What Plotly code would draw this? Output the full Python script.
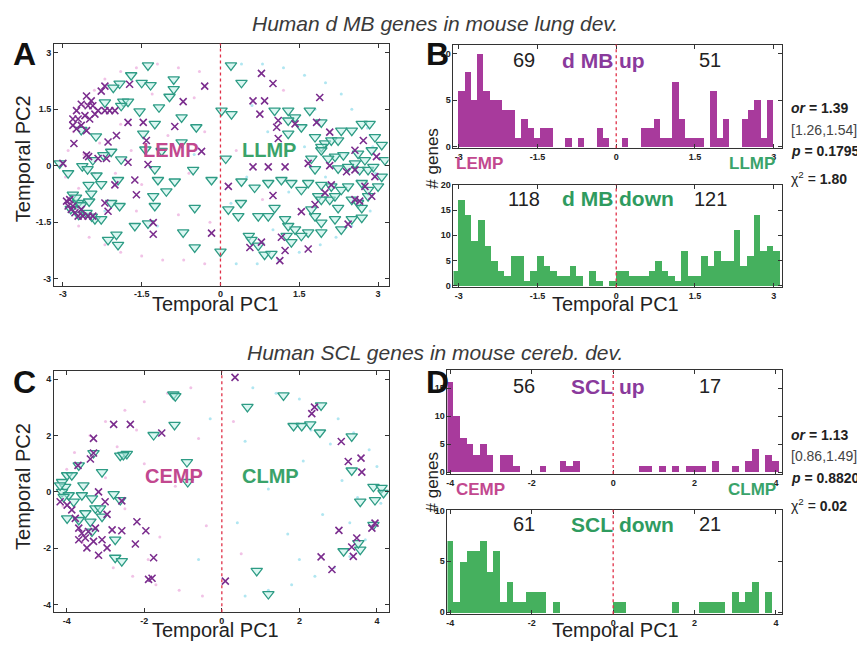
import plotly.graph_objects as go

# page body has an 8 px margin, so the figure is drawn smaller and every
# reference pixel position is shifted by that amount (no scrollbars appear)
OFF = 8
W, H = 865 - OFF, 649 - 2 * OFF

# ---------------- data ----------------
MB_UP_START, MB_UP_WIDTH = -3.0, 0.12
MB_UP_COUNTS = [6, 8, 5, 10, 6, 5, 5, 4, 4, 1, 3, 2, 1, 2, 2, 0, 0, 1, 0, 1, 0, 0, 2, 1, 0,
                0, 1, 0, 0, 2, 2, 3, 1, 1, 7, 3, 1, 1, 1, 0, 6, 1, 3, 0, 0, 3, 4, 5, 1, 5]

MB_DOWN_START, MB_DOWN_WIDTH = -3.125, 0.125
MB_DOWN_COUNTS = [3, 17, 14, 9, 13, 8, 5, 3, 2, 6, 6, 1, 3, 6, 4, 3, 2, 2, 4, 2, 0, 3, 1, 0, 1,
                  3, 3, 2, 2, 2, 3, 5, 3, 2, 1, 7, 2, 2, 6, 4, 7, 5, 5, 11, 4, 6, 14, 7, 8, 7]

SCL_START, SCL_WIDTH = -4.075, 0.163
SCL_UP_COUNTS = [16, 10, 6, 5, 3, 5, 3, 0, 3, 3, 1, 0, 0, 0, 1, 0, 0, 2, 1, 2, 0, 0, 0, 0, 0,
                 0, 0, 0, 0, 1, 1, 0, 1, 0, 1, 0, 1, 1, 1, 0, 2, 0, 0, 1, 0, 2, 4, 0, 3, 2]
SCL_DOWN_COUNTS = [7, 1, 5, 6, 6, 7, 4, 6, 1, 3, 1, 1, 2, 2, 2, 0, 1, 0, 0, 0, 0, 0, 0, 0, 0,
                   1, 1, 0, 0, 0, 0, 0, 0, 0, 1, 0, 0, 0, 1, 1, 1, 1, 0, 2, 1, 2, 3, 0, 2, 0]

# Panel A: d MB down genes (triangles) and d MB up genes (crosses)
A_DOWN_PTS = [
    (-1.38, 2.66), (-1.70, 2.40), (-1.50, 2.20), (-1.33, 2.14), (-1.92, 2.18), (-2.04, 2.07),
    (-0.89, 2.29), (-0.89, 2.03), (-0.97, 1.83), (-1.85, 1.70), (-1.76, 1.70), (-1.89, 1.59),
    (-2.20, 1.68), (-1.54, 1.44), (-1.17, 1.55), (-0.74, 1.28), (0.02, 1.46), (0.21, 1.37),
    (-1.25, 1.11), (-0.46, 1.02), (-1.47, 0.85), (-2.37, 0.78), (-0.74, 0.62), (-1.43, 0.43),
    (-1.12, 0.39), (-1.89, 0.17), (-2.08, 0.37), (-2.23, 0.28), (-2.43, 0.15), (-2.63, -0.01),
    (-2.53, -0.09), (-2.36, -0.26), (-2.90, -0.20), (-3.06, 0.06), (-1.25, -0.09), (-0.52, -0.11),
    (-1.19, -0.38), (-0.87, -0.42), (-0.17, -0.38), (-2.51, -0.51), (-2.27, -0.49), (-1.95, -0.38),
    (-2.81, -0.77), (-2.71, -0.99), (-2.46, -0.74), (-2.39, -1.42), (-2.08, -0.99), (-1.92, -1.07),
    (-1.25, -1.07), (-1.28, -0.81), (-1.03, -0.68), (-0.49, -1.12), (-2.27, -1.42), (-1.98, -1.83),
    (-1.95, -2.10), (-2.14, -1.97), (-1.63, -1.60), (-1.38, -1.53), (-0.71, -1.77), (-0.49, -2.17),
    (0.00, -2.28), (-2.75, -0.85), (-2.65, -1.05), (-2.55, -1.25), (-2.45, -1.35), (-2.85, -1.15),
    (-2.70, -1.30), (-2.50, -0.95), (-2.65, 0.95),
    (0.20, 2.66), (0.40, 2.20), (0.10, 0.19), (0.40, -0.42), (0.39, -0.99), (0.15, -1.16),
    (0.34, -1.34), (0.54, -1.86), (0.59, -1.97), (0.72, -2.12), (0.84, -2.36), (0.97, -2.34),
    (0.72, -1.34), (0.91, -1.34), (1.03, -1.12), (1.03, 1.46), (1.29, 1.46), (1.42, 1.28),
    (1.70, 1.46), (1.29, 1.20), (1.29, 0.85), (1.54, 1.02), (1.92, 1.15), (1.80, 0.76),
    (1.99, 0.59), (1.92, 0.50), (1.73, 0.19), (1.80, -0.09), (1.92, 0.41), (2.11, 0.67),
    (2.24, 0.67), (2.30, 0.93), (2.50, 0.93), (2.69, 1.11), (2.84, 1.11), (2.94, 0.76),
    (3.07, 0.55), (2.88, 0.41), (2.75, 0.15), (2.56, 0.06), (2.43, -0.03), (2.65, -0.11),
    (2.81, -0.11), (2.91, -0.03), (3.13, 0.15), (3.07, -0.29), (3.00, -0.55), (2.81, -0.64),
    (2.69, -0.46), (2.62, -0.99), (2.81, -0.81), (2.69, -1.12), (2.50, -0.90), (2.30, -0.64),
    (2.11, -0.55), (1.92, -0.51), (1.67, -0.46), (1.35, -0.46), (1.54, -0.64), (1.16, -0.38),
    (0.91, -0.46), (0.65, -0.58), (1.86, -0.81), (2.08, -0.90), (2.18, -0.81), (2.24, -1.12),
    (2.50, -1.42), (2.69, -1.38), (2.18, -1.42), (1.92, -1.51), (1.80, -1.34), (1.67, -1.77),
    (1.42, -1.69), (1.29, -1.60), (1.23, -1.42), (1.26, -1.86), (1.35, -2.03), (1.54, -1.86),
    (1.92, -1.77), (2.30, -1.69), (1.92, -0.90), (2.43, -0.55), (1.73, -1.16), (2.24, -0.07),
    (2.62, 0.32), (2.18, 0.24), (2.05, 0.19), (2.34, 0.28),
]
A_UP_PTS = [
    (-2.55, 1.85), (-2.46, 1.72), (-2.27, 1.98), (-2.20, 2.11), (-2.65, 1.63), (-2.74, 1.46),
    (-2.81, 1.24), (-2.71, 1.24), (-2.58, 1.33), (-2.49, 1.24), (-2.39, 1.37), (-2.33, 1.46),
    (-2.20, 1.46), (-2.11, 1.46), (-2.01, 1.46), (-2.65, 1.07), (-2.81, 1.07), (-2.74, 0.98),
    (-2.55, 0.93), (-2.52, 1.59), (-2.43, 1.59),
    (-1.73, 2.16), (-0.30, 2.11), (-0.71, 1.70), (-1.76, 1.15), (-1.47, 1.15), (-0.87, 1.04),
    (-1.98, 0.80), (-2.14, 0.63), (-2.79, 0.59), (-2.55, 0.28), (-2.51, 0.24), (-2.33, 0.19),
    (-2.17, 0.19), (-1.76, 0.09), (-1.38, 0.03), (-0.36, 0.38), (-1.41, 0.67), (-2.01, -0.51),
    (-1.63, -0.38), (-1.60, -0.77), (-2.14, -1.21), (-1.28, -1.51), (-1.28, -1.82), (-0.17, -1.79),
    (-3.00, 0.06),
    (-2.93, -0.94), (-2.90, -1.07), (-2.84, -1.16), (-2.77, -1.25), (-2.71, -1.34), (-2.62, -1.34),
    (-2.52, -1.34), (-2.43, -1.34), (-2.87, -0.90), (-2.81, -1.07), (-2.65, -1.16), (-2.20, -0.99),
    (0.78, 2.45), (1.00, 2.18), (1.89, 1.81), (0.62, 1.72), (0.84, 1.72), (0.75, 1.37),
    (1.10, 1.20), (1.42, 1.11), (1.83, 1.15), (1.07, 1.02), (1.10, 0.72), (2.08, 0.89),
    (0.62, -0.03), (0.91, -0.03), (1.23, -0.03), (1.67, 0.06), (2.08, 0.00), (2.56, 0.41),
    (2.72, 0.67), (2.97, 0.24), (0.15, -0.55), (1.00, -0.79), (1.80, -1.03), (1.99, -0.72),
    (2.11, -0.51), (1.54, -1.22), (2.43, -1.55), (2.56, -0.90), (2.65, -0.94), (2.88, -0.81),
    (2.75, -0.55), (2.56, -0.11), (2.40, -0.16), (2.94, -0.29), (0.56, -2.17), (0.78, -2.03),
    (1.23, -2.25), (1.13, -2.52), (1.67, -2.21), (1.16, -1.90),
]
# Panel A: faint background genes (early-peaking pink, late-peaking cyan)
A_BG_EARLY = [
    (-2.9, 0.4), (-2.95, -0.3), (-2.8, 0.9), (-2.7, -0.6), (-2.6, 1.6), (-2.4, 2.0), (-2.2, 2.3),
    (-1.9, 2.5), (-1.6, 2.6), (-1.2, 2.7), (-0.8, 2.6), (-0.4, 2.5), (-2.7, -1.6), (-2.5, -1.9),
    (-2.2, -2.1), (-1.9, -2.3), (-1.5, -2.4), (-1.1, -2.5), (-0.7, -2.5), (-0.3, -2.6), (-2.3, 0.6),
    (-2.0, -0.2), (-1.7, 0.4), (-1.5, -0.5), (-1.0, 0.8), (-0.6, -0.2), (-0.3, 0.9), (-0.8, -1.3),
    (-1.6, -1.2), (-2.6, 0.3), (-2.85, -0.8), (-2.4, -0.2), (-1.3, 1.9), (-0.5, 1.8), (-0.2, -1.5),
    (0.3, 0.4), (0.8, -0.9), (1.2, 2.0), (-1.9, 1.1), (-2.95, 0.0),
]
A_BG_LATE = [
    (2.9, 0.5), (2.95, -0.2), (2.8, 1.0), (2.7, -0.9), (2.5, 1.5), (2.3, 1.9), (2.0, 2.2),
    (1.6, 2.4), (1.2, 2.6), (0.8, 2.7), (0.4, 2.7), (2.5, -1.6), (2.2, -1.9), (1.9, -2.1),
    (1.5, -2.3), (1.1, -2.5), (0.7, -2.6), (0.3, -2.6), (2.4, 0.3), (2.0, -0.3), (1.6, 0.5),
    (1.3, -0.7), (0.9, 0.9), (0.5, -0.3), (0.2, -1.0), (1.0, -1.7), (1.8, 1.5), (2.6, -0.4),
    (-0.5, 0.3), (-1.2, -1.6), (-2.2, -1.2), (-0.9, 2.2), (0.6, 1.6), (2.85, -1.2),
]

# Panel C: SCL down genes (triangles) and SCL up genes (crosses)
C_DOWN_PTS = [
    (-1.25, 3.46), (-1.20, 3.40), (-1.22, 2.38), (-1.76, 2.02), (-2.62, 1.29), (-2.45, 1.35),
    (-2.54, 1.31), (-3.31, 1.38), (-3.09, 0.70), (-3.69, 0.94), (-0.90, 1.06), (-0.88, 0.35),
    (-2.79, -0.08), (-2.62, -0.29), (-3.99, 0.59), (-3.87, 0.59), (-4.12, 0.35), (-4.04, 0.18),
    (-4.12, 0.00), (-3.95, -0.12), (-3.82, -0.35), (-3.61, -0.12), (-3.57, 0.23), (-3.35, -0.23),
    (-3.26, -0.59), (-3.52, -0.76), (-3.69, -1.00), (-3.39, -1.06), (-3.99, -0.94), (-2.75, -1.70),
    (-2.75, -2.34), (-2.58, -2.46), (-4.17, 0.23), (-4.08, -0.18), (-3.14, -0.59), (-3.09, -0.88),
    (-3.35, -1.41),
    (0.66, 3.02), (1.59, 3.43), (2.56, 3.07), (1.85, 2.34), (2.06, 2.34), (2.28, 2.40),
    (2.53, 2.11), (3.35, 1.97), (3.35, 0.76), (3.91, 0.18), (4.12, 0.14), (4.17, -0.04),
    (3.95, -0.29), (3.57, -0.35), (3.14, -2.11), (3.57, -2.05), (3.52, -1.82), (3.91, -1.17),
    (0.90, -2.81), (1.20, -3.63),
]
C_UP_PTS = [
    (-2.79, 2.40), (-2.36, 2.40), (-3.31, 1.90), (-3.31, 1.38), (-3.39, 1.17), (-3.71, 0.94),
    (-1.55, 2.09), (-3.18, 0.00), (-3.01, -0.35), (-2.58, -0.32), (-4.17, -0.35), (-3.99, -0.47),
    (-3.87, -0.64), (-3.78, -0.94), (-3.69, -1.29), (-3.61, -1.47), (-3.52, -1.64), (-3.69, -1.70),
    (-3.44, -1.41), (-3.26, -1.29), (-3.09, -1.70), (-2.96, -1.99), (-3.18, -2.25), (-2.83, -1.35),
    (-2.58, -1.38), (-2.19, -1.06), (-1.96, -1.38), (-2.23, -1.85), (-1.76, -2.34), (-1.89, -3.11),
    (-1.80, -3.07), (-2.96, -0.80), (-3.48, -1.99), (-3.31, -1.76),
    (0.34, 4.07), (0.09, -3.17), (2.32, 2.78), (2.39, 3.01), (3.08, 1.79), (3.26, 1.08),
    (3.59, 1.20), (3.61, 0.70), (3.95, -1.11), (3.87, -1.29), (3.48, -1.64), (3.35, -1.96),
    (3.39, -2.29), (3.02, -1.37), (2.56, -2.31), (2.84, -2.76),
]
C_BG_EARLY = [
    (-4.0, 0.8), (-4.1, -0.5), (-3.8, 1.4), (-3.6, -1.8), (-3.4, 2.0), (-3.0, 2.5), (-2.5, 2.9),
    (-2.0, 3.2), (-1.4, 3.5), (-0.8, 3.7), (-3.2, -2.3), (-2.8, -2.7), (-2.3, -3.0), (-1.7, -3.3),
    (-1.1, -3.5), (-0.5, -3.7), (-3.0, 0.5), (-2.5, -0.6), (-2.0, 1.0), (-1.6, -1.6), (-1.2, 0.2),
    (-0.6, 1.9), (-0.4, -1.2), (-2.7, 1.6), (-3.5, 0.2), (-3.3, -1.0), (-1.9, -2.4), (-2.2, 2.2),
    (0.3, 2.5), (0.5, -2.2),
]
C_BG_LATE = [
    (4.0, 0.9), (4.1, -0.4), (3.8, 1.5), (3.7, -1.7), (3.4, 2.1), (3.0, 2.6), (2.5, 3.0),
    (2.0, 3.3), (1.4, 3.5), (0.8, 3.7), (3.3, -2.3), (2.9, -2.7), (2.4, -3.0), (1.8, -3.3),
    (1.2, -3.5), (0.6, -3.7), (3.1, 0.4), (2.6, -0.8), (2.1, 1.1), (1.7, -1.5), (1.2, 0.1),
    (0.6, 1.8), (0.4, -1.1), (2.8, 1.7), (3.5, -0.2), (3.3, -1.1), (2.0, -2.4), (2.3, 2.2),
    (-0.3, 2.6), (-0.6, -2.4),
]

MB_TICKS = [-3, -1.5, 0, 1.5, 3]
MB_TICK_TEXT = ["-3", "-1.5", "0", "1.5", "3"]
SCL_TICKS = [-4, -2, 0, 2, 4]
SCL_TICK_TEXT = ["-4", "-2", "0", "2", "4"]

# ---------------- styling ----------------
FONT = "Arial, Liberation Sans, Helvetica, sans-serif"
PURPLE = "#7B2D8E"
TEAL = "#2E9C85"
UP_BAR = "#A83A9C"
DOWN_BAR = "#45B05E"
PINK_TXT = "#C2488F"
GREEN_TXT = "#3AA36A"
UP_TXT = "#8A3A9C"
DOWN_TXT = "#2F9B5F"
RED = "#E03048"
FRAME = "#333333"


def dom(x0, x1, y0, y1):
    return [(x0 - OFF) / W, (x1 - OFF) / W], [1 - (y1 - OFF) / H, 1 - (y0 - OFF) / H]


def px(x, y):
    return (x - OFF) / W, 1 - (y - OFF) / H


fig = go.Figure()


def ax(n):
    return ("x%d" % n if n > 1 else "x"), ("y%d" % n if n > 1 else "y")


def centers(start, width, counts):
    return [start + width * (i + 0.5) for i in range(len(counts))]


def add_bars(counts, start, width, color, n):
    xa, ya = ax(n)
    fig.add_trace(go.Bar(
        x=centers(start, width, counts), y=counts, width=width,
        marker=dict(color=color, line=dict(width=0)),
        xaxis=xa, yaxis=ya, showlegend=False, hoverinfo="skip"))


def add_scatter(down_pts, up_pts, bg_early, bg_late, n):
    xa, ya = ax(n)
    for pts, col in ((bg_early, "rgba(225,120,200,0.45)"), (bg_late, "rgba(80,200,225,0.45)")):
        fig.add_trace(go.Scatter(
            x=[p[0] for p in pts], y=[p[1] for p in pts], mode="markers",
            marker=dict(symbol="circle", size=3, color=col),
            xaxis=xa, yaxis=ya, showlegend=False, hoverinfo="skip"))
    fig.add_trace(go.Scatter(
        x=[p[0] for p in down_pts], y=[p[1] for p in down_pts], mode="markers",
        marker=dict(symbol="triangle-down", size=10, color="rgba(190,240,232,0.55)",
                    line=dict(color=TEAL, width=1.3)),
        xaxis=xa, yaxis=ya, showlegend=False, hoverinfo="skip"))
    fig.add_trace(go.Scatter(
        x=[p[0] for p in up_pts], y=[p[1] for p in up_pts], mode="markers",
        marker=dict(symbol="x-thin-open", size=7, color=PURPLE,
                    line=dict(color=PURPLE, width=1.6)),
        xaxis=xa, yaxis=ya, showlegend=False, hoverinfo="skip"))


add_scatter(A_DOWN_PTS, A_UP_PTS, A_BG_EARLY, A_BG_LATE, 1)
add_bars(MB_UP_COUNTS, MB_UP_START, MB_UP_WIDTH, UP_BAR, 2)
add_bars(MB_DOWN_COUNTS, MB_DOWN_START, MB_DOWN_WIDTH, DOWN_BAR, 3)
add_scatter(C_DOWN_PTS, C_UP_PTS, C_BG_EARLY, C_BG_LATE, 4)
add_bars(SCL_UP_COUNTS, SCL_START, SCL_WIDTH, UP_BAR, 5)
add_bars(SCL_DOWN_COUNTS, SCL_START, SCL_WIDTH, DOWN_BAR, 6)

axis_common = dict(showline=True, linecolor=FRAME, linewidth=1, mirror="ticks",
                   ticks="inside", ticklen=4, tickcolor=FRAME, tickwidth=1,
                   showgrid=False, zeroline=False, fixedrange=True,
                   tickfont=dict(family=FONT, size=9, color="#222", weight="bold"))

panels = {
    1: dict(box=(53, 388, 39, 284), xr=[-3.17, 3.2], yr=[-3.18, 3.24],
            xt=(MB_TICKS, MB_TICK_TEXT), yt=(MB_TICKS, MB_TICK_TEXT)),
    2: dict(box=(453, 782, 40, 145), xr=[-3.1, 3.16], yr=[-0.18, 10.95],
            xt=(MB_TICKS, MB_TICK_TEXT), yt=([0, 5, 10], ["0", "5", "10"])),
    3: dict(box=(453, 782, 182, 286), xr=[-3.1, 3.16], yr=[-0.33, 20.0],
            xt=(MB_TICKS, MB_TICK_TEXT), yt=([0, 5, 10, 15, 20], ["0", "5", "10", "15", "20"])),
    4: dict(box=(53, 388, 371, 615), xr=[-4.33, 4.3], yr=[-4.28, 4.28],
            xt=(SCL_TICKS, SCL_TICK_TEXT), yt=(SCL_TICKS, SCL_TICK_TEXT)),
    5: dict(box=(447, 782, 370, 475), xr=[-4.07, 4.15], yr=[-0.35, 18.2],
            xt=(SCL_TICKS, SCL_TICK_TEXT), yt=([0, 5, 10, 15], ["0", "5", "10", "15"])),
    6: dict(box=(447, 782, 511, 617), xr=[-4.07, 4.15], yr=[-0.2, 10.07],
            xt=(SCL_TICKS, SCL_TICK_TEXT), yt=([0, 5, 10], ["0", "5", "10"])),
}

layout_axes = {}
shapes = []
for n, p in panels.items():
    xd, yd = dom(*p["box"])
    xref, yref = ax(n)
    xn = "xaxis" if n == 1 else "xaxis%d" % n
    yn = "yaxis" if n == 1 else "yaxis%d" % n
    layout_axes[xn] = dict(axis_common, domain=xd, range=p["xr"], anchor=yref,
                           tickvals=p["xt"][0], ticktext=p["xt"][1])
    layout_axes[yn] = dict(axis_common, domain=yd, range=p["yr"], anchor=xref,
                           tickvals=p["yt"][0], ticktext=p["yt"][1])
    shapes.append(dict(type="line", xref=xref, yref=yref + " domain", x0=0, x1=0, y0=0, y1=1,
                       line=dict(color=RED, width=1.3, dash="dot"), layer="above"))

ann = []


def text(x, y, s, size=13, color="#222", xanchor="center", angle=0, weight=None, italic=False):
    xx, yy = px(x, y)
    f = dict(family=FONT, size=size, color=color)
    if weight:
        f["weight"] = weight
    if italic:
        f["style"] = "italic"
    ann.append(dict(x=xx, y=yy, xref="paper", yref="paper", text=s, showarrow=False,
                    xanchor=xanchor, yanchor="middle", font=f, textangle=angle,
                    borderpad=0))


# titles
text(434, 19, "Human d MB genes in mouse lung dev.", size=21, color="#3a3a3a", italic=True)
text(434, 352, "Human SCL genes in mouse cereb. dev.", size=21, color="#3a3a3a", italic=True)
# panel letters
for lx, ly, s in [(24, 50, "A"), (437, 50, "B"), (24, 382, "C"), (437, 382, "D")]:
    text(lx, ly, s, size=32, color="#111", weight="bold")
# axis titles
for cy in (303, 633):
    text(215, cy, "Temporal PC1", size=20, color="#222")
    text(615, cy, "Temporal PC1", size=20, color="#222")
text(22, 155, "Temporal PC2", size=20, color="#222", angle=-90)
text(22, 487, "Temporal PC2", size=20, color="#222", angle=-90)
text(432, 155, "# genes", size=17, color="#222", angle=-90)
text(432, 483, "# genes", size=17, color="#222", angle=-90)
# scatter region labels
text(170, 147, "LEMP", size=20, color=PINK_TXT, weight="bold")
text(268, 147, "LLMP", size=20, color=GREEN_TXT, weight="bold")
text(173, 477, "CEMP", size=20, color=PINK_TXT, weight="bold")
text(270, 477, "CLMP", size=20, color=GREEN_TXT, weight="bold")
# histogram labels
text(479, 160, "LEMP", size=17, color=PINK_TXT, weight="bold")
text(752, 160, "LLMP", size=17, color=GREEN_TXT, weight="bold")
text(480, 491, "CEMP", size=17, color=PINK_TXT, weight="bold")
text(752, 491, "CLMP", size=17, color=GREEN_TXT, weight="bold")

for y, left, right, lab_l, lab_r, col in [
        (56, "69", "51", "d MB", "up", UP_TXT),
        (196, "118", "121", "d MB", "down", DOWN_TXT),
        (386, "56", "17", "SCL", "up", UP_TXT),
        (526, "61", "21", "SCL", "down", DOWN_TXT)]:
    text(524, y, left, size=20, color="#222")
    text(710, y, right, size=20, color="#222")
    text(614, y, lab_l, size=21, color=col, weight="bold", xanchor="right")
    text(618, y, lab_r, size=21, color=col, weight="bold", xanchor="left")

# statistics
for y0, orv, ci, pv, chi in [(104, "1.39", "[1.26,1.54]", "0.1795", "1.80"),
                             (435, "1.13", "[0.86,1.49]", "0.8820", "0.02")]:
    text(790, y0, "<b><i>or</i> = %s</b>" % orv, size=14, color="#222", xanchor="left")
    text(790, y0 + 22, ci, size=14, color="#444", xanchor="left")
    text(790, y0 + 44, "<b><i>p</i> = %s</b>" % pv, size=14, color="#222", xanchor="left")
    text(790, y0 + 71, "χ<sup>2</sup> = <b>%s</b>" % chi, size=14, color="#222", xanchor="left")

fig.update_layout(
    width=W, height=H, autosize=False,
    margin=dict(l=0, r=0, t=0, b=0),
    paper_bgcolor="white", plot_bgcolor="white",
    showlegend=False, bargap=0,
    annotations=ann, shapes=shapes,
    font=dict(family=FONT),
    **layout_axes,
)

fig.write_html("out.html")
